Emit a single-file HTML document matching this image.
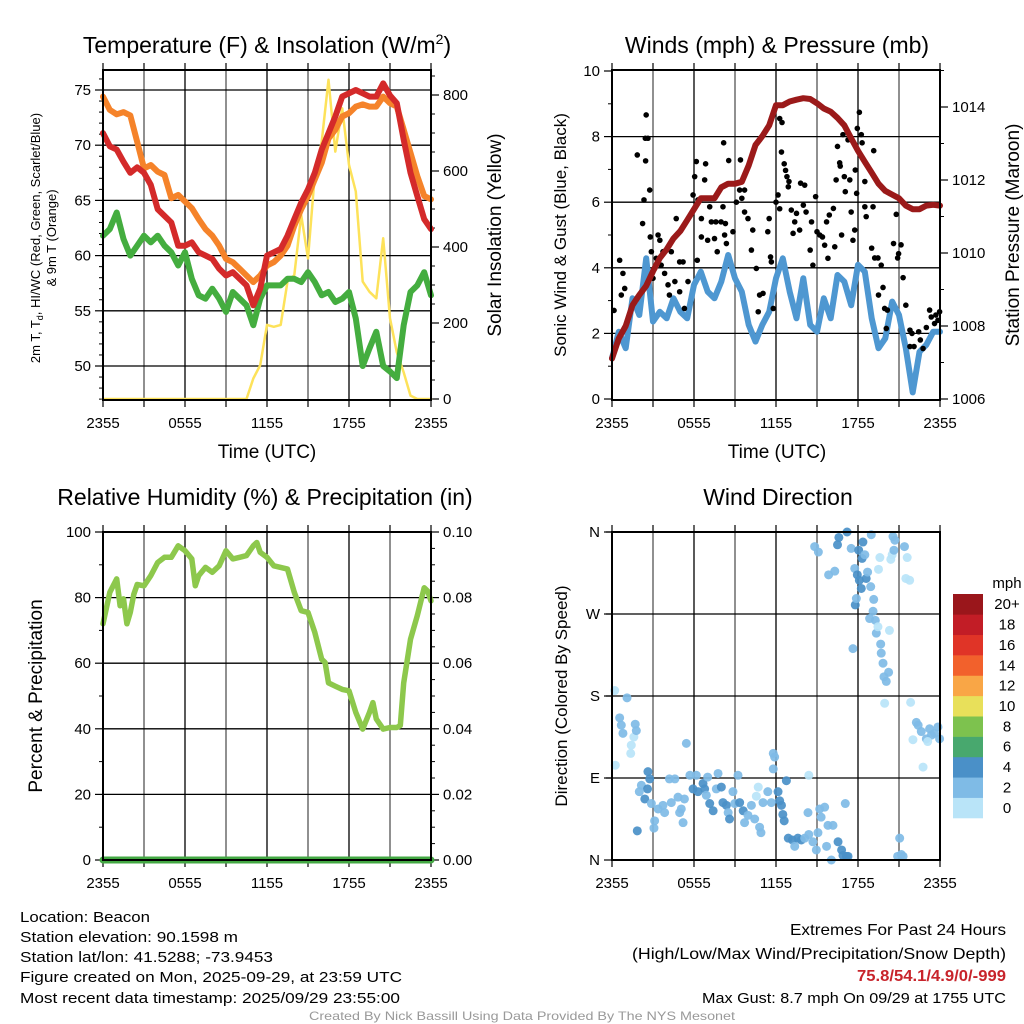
<!DOCTYPE html>
<html><head><meta charset="utf-8"><style>
html,body{margin:0;padding:0;background:#fff;}
svg{display:block;font-family:"Liberation Sans",sans-serif;}
</style></head><body>
<svg id="chart" width="1024" height="1024" viewBox="0 0 1024 1024" xmlns="http://www.w3.org/2000/svg">
<rect width="1024" height="1024" fill="#fff"/>
<g id="g1"></g>
<g id="g2"></g>
<g id="g3"></g>
<g id="g4"></g>
<g font-size="15" fill="#000">
<text x="20" y="922" textLength="130" lengthAdjust="spacingAndGlyphs">Location: Beacon</text>
<text x="20" y="942" textLength="218" lengthAdjust="spacingAndGlyphs">Station elevation: 90.1598 m</text>
<text x="20" y="962" textLength="253" lengthAdjust="spacingAndGlyphs">Station lat/lon: 41.5288; -73.9453</text>
<text x="20" y="982" textLength="382" lengthAdjust="spacingAndGlyphs">Figure created on Mon, 2025-09-29, at 23:59 UTC</text>
<text x="20" y="1003" textLength="380" lengthAdjust="spacingAndGlyphs">Most recent data timestamp: 2025/09/29 23:55:00</text>
</g>
<g text-anchor="end">
<text x="1006" y="935" font-size="16" textLength="216" lengthAdjust="spacingAndGlyphs">Extremes For Past 24 Hours</text>
<text x="1006" y="959" font-size="16" textLength="374" lengthAdjust="spacingAndGlyphs">(High/Low/Max Wind/Precipitation/Snow Depth)</text>
<text x="1006" y="981" font-size="16" font-weight="bold" fill="#c8242b" textLength="149" lengthAdjust="spacingAndGlyphs">75.8/54.1/4.9/0/-999</text>
<text x="1006" y="1003" font-size="15" textLength="304" lengthAdjust="spacingAndGlyphs">Max Gust: 8.7 mph On 09/29 at 1755 UTC</text>
</g>
<text x="522" y="1020" font-size="12" fill="#999" text-anchor="middle" textLength="426" lengthAdjust="spacingAndGlyphs">Created By Nick Bassill Using Data Provided By The NYS Mesonet</text>
</svg>
<script>
// ---- Data (t in hours after 2355 UTC) ----
var halfHours = [];
for (var i = 0; i <= 48; i++) halfHours.push(i / 2);
var xTickLabels = ["2355","0555","1155","1755","2355"];
var tempRed = [71.1,69.9,69.6,68.5,67.5,68,67.5,66.4,64.2,63.6,63,60.9,60.9,61.2,60.3,60,59.7,58.8,58.2,58.5,57.9,57.3,55.5,57,60,60.3,60.6,61.8,63.3,64.8,66,67.5,69.6,71.1,72.6,74.4,74.7,75,74.7,74.4,74.4,75.6,74.5,73.8,70.5,67.5,65.4,63.3,62.4];
var tempOrange = [74.4,73.2,72.8,73,72.7,70.3,67.9,68.2,67.6,67.3,65.2,65.5,64.9,64.3,63.3,62.4,61.8,60.9,59.7,59.4,58.8,58.2,57.6,58.2,59.1,59.4,60,60.9,62.7,64.2,65.4,66.9,68.4,70.6,71.4,72.6,72.9,73.5,73.7,73.5,73.5,74.4,73.8,73.5,71.4,69.3,67.2,65.4,65.1];
var tempGreen = [61.8,62.4,63.9,61.5,60,60.9,61.8,61.2,61.8,60.9,60.3,59.1,60.3,57.9,56.4,56.1,57,56.1,54.9,56.7,56.1,55.5,53.7,56.1,57.3,57.3,57.3,57.9,57.9,57.6,58.5,57.6,56.4,56.7,55.8,56.1,56.7,54.3,50,51.6,53.1,50,49.5,48.9,53.7,56.7,57.3,58.5,56.4];
var solar = [0,0,0,0,0,0,0,0,0,0,0,0,0,0,0,0,0,0,0,0,0,0,54,89,195,190,195,309,326,484,370,590,677,840,651,765,616,546,309,282,265,423,212,123,70,9,0,0,0];
var windSpeed = [1.24,2.05,1.55,3.07,2.56,4.29,2.36,2.66,2.46,3.07,2.66,2.46,3.48,3.88,3.27,3.07,3.58,4.39,3.68,3.27,2.26,1.75,2.26,2.66,3.68,4.29,3.27,2.46,3.68,2.26,2.05,3.07,2.46,3.78,3.58,2.86,4.09,3.88,2.46,1.55,1.85,2.97,2.56,1.55,0.2,1.44,1.65,2.05,2.05];
var pressure = [1007.11,1007.66,1008.0,1008.57,1008.85,1009.1,1009.5,1009.86,1010.1,1010.4,1010.6,1010.9,1011.2,1011.5,1011.5,1011.5,1011.8,1011.9,1011.9,1011.95,1012.4,1012.96,1013.2,1013.5,1014.05,1014.05,1014.15,1014.2,1014.24,1014.22,1014.1,1013.96,1013.87,1013.7,1013.5,1013.14,1012.8,1012.5,1012.2,1011.9,1011.7,1011.6,1011.5,1011.3,1011.2,1011.2,1011.3,1011.32,1011.3];
var gustTimes = [0.15,0.56,0.8,0.93,0.68,1.85,2.5,2.44,2.63,2.46,2.76,2.34,2.24,2.8,3.37,3.5,2.88,3.24,3.12,3.0,3.73,3.6,3.85,4.1,4.2,4.34,4.6,4.7,4.95,4.95,5.2,5.3,5.56,5.93,6.05,6.17,6.29,6.54,6.54,6.24,6.78,6.85,7.0,7.15,7.27,7.5,7.6,7.7,7.98,8.17,8.24,8.3,8.12,8.37,8.54,8.85,9.1,9.34,9.4,9.7,9.5,9.7,9.95,10.2,10.3,10.56,10.8,11.05,10.7,11.4,11.5,11.66,11.8,11.6,12.0,12.15,12.27,12.27,12.44,12.4,12.6,12.7,12.8,12.95,12.9,13.12,13.25,13.37,13.5,13.73,13.8,14.1,14.0,14.2,14.5,14.6,14.7,14.9,15.0,15.2,15.4,15.56,15.7,15.8,15.9,16.2,16.3,16.4,16.5,16.66,16.7,16.8,16.9,17.0,17.07,17.27,17.4,17.5,17.63,17.76,17.8,17.9,17.95,18.1,18.24,18.3,18.5,18.5,18.6,19.0,19.15,19.1,19.22,19.46,19.5,19.7,19.83,19.95,20.15,20.07,20.6,20.8,20.9,20.97,21.15,21.3,21.5,21.8,21.95,21.8,22.1,22.44,22.56,22.76,23.0,23.24,23.36,23.6,23.7,23.97,23.85];
var gustValues = [2.7,4.23,3.83,3.37,3.17,7.44,8.66,7.95,7.95,7.26,6.37,6.07,5.35,4.94,5.0,4.84,4.49,4.29,3.98,3.68,4.49,4.08,3.83,3.48,3.17,4.49,3.58,5.5,4.18,3.27,4.18,2.76,3.58,6.22,6.78,7.24,6.07,5.5,4.94,4.23,6.68,7.17,4.84,5.86,5.4,4.89,5.4,4.49,5.4,7.81,5.0,5.35,5.86,4.74,7.27,5.1,6.0,6.37,7.29,6.37,6.12,5.7,5.5,4.54,5.15,3.98,3.17,3.22,2.66,5.1,5.5,4.18,2.76,4.33,6.0,6.22,5.8,8.55,8.43,7.53,7.17,6.97,6.78,6.63,6.47,5.76,5.05,5.4,5.66,5.15,6.58,6.52,5.91,5.7,4.54,5.4,4.08,6.17,5.1,5.0,4.94,4.69,5.4,4.29,5.61,5.81,4.64,6.68,7.7,7.2,7.1,5.0,8.06,6.78,6.32,7.9,6.68,5.7,4.84,5.15,6.98,6.27,8.25,8.74,8.06,7.81,6.63,5.86,5.56,4.6,7.57,5.86,4.3,4.3,3.17,4.08,3.4,2.76,2.71,2.15,4.74,5.63,4.3,4.43,4.7,3.7,2.86,2.1,2.0,1.6,1.6,2.05,1.8,1.54,2.18,2.71,2.5,2.3,2.56,2.66,2.4];
var rhTimes = [0,0.5,1,1.25,1.5,1.75,2,2.25,2.5,3,3.5,4,4.5,5,5.5,6,6.5,6.75,7,7.5,8,8.5,9,9.5,10,10.5,11,11.25,11.5,12,12.5,13,13.5,14,14.5,15,15.5,16,16.25,16.5,17,17.5,18,18.5,19,19.5,19.75,20,20.5,21,21.5,21.75,22,22.5,23,23.5,23.75,24];
var rhValues = [72,81.6,85.7,77.5,79.6,72,75.5,81,84,83.6,86.7,90.7,92.3,92.3,95.8,94.3,91.8,83.6,86.7,89.2,87.7,89.7,94.3,91.8,92.3,92.8,95.8,96.8,93.8,92.3,89.7,89.2,88.7,81.6,76,75.5,69.4,61.2,60.2,54,53,52,51.6,45,39.9,45,48,43,39.9,40.4,40.4,41,54,67.3,74.5,83,82,79];
var precip = [0,0,0,0,0,0,0,0,0,0,0,0,0,0,0,0,0,0,0,0,0,0,0,0,0,0,0,0,0,0,0,0,0,0,0,0,0,0,0,0,0,0,0,0,0,0,0,0,0];
var dirTimes = [0.2,0.24,0.56,0.68,0.8,1.1,1.41,1.37,1.6,1.7,1.78,1.85,2.15,2.4,2.63,2.6,2.0,2.76,2.88,3.12,3.07,3.37,3.73,3.85,4.2,4.34,4.6,4.83,4.95,5.07,5.2,5.3,5.44,5.7,5.93,6.17,6.29,6.66,6.78,6.9,7.0,7.15,7.4,7.63,7.76,8.0,8.12,8.37,8.5,8.6,8.85,8.98,9.22,9.34,9.6,9.7,9.95,10.2,10.44,10.7,10.56,10.8,10.9,11.05,11.4,11.66,11.8,11.9,11.8,12.15,12.27,12.4,12.5,12.6,12.76,12.9,13.2,13.37,13.6,13.85,14.1,14.34,14.4,14.4,14.7,14.95,15.07,15.2,15.3,15.56,15.7,15.8,16.05,16.17,16.54,16.8,16.9,17.07,17.15,17.27,14.83,15.1,15.85,16.3,16.5,16.6,17.2,17.5,17.63,17.76,17.8,17.88,17.95,18.05,18.1,18.24,18.3,18.36,18.5,18.6,18.7,18.85,18.93,18.97,19.1,19.15,19.27,19.34,19.46,19.5,19.6,19.66,19.7,19.83,19.9,20.07,20.24,20.3,19.95,20.4,20.5,20.56,20.7,20.63,21.4,21.5,21.6,21.78,21.05,21.17,21.3,20.9,21.85,22.27,22.4,22.63,22.02,22.76,23.0,23.24,23.37,23.6,23.85,23.97,23.1];
var dirValues = [186,104,156,148,139,178,126,117,135,149,142,32,82,67,97,78,75,89,62,43,35,56,60,52,89,63,89,69,52,56,41,67,128,93,78,93,75,84,78,71,91,62,54,78,95,80,63,60,52,45,75,62,93,63,54,41,49,60,45,80,70,36,30,63,75,63,117,113,100,75,65,60,50,43,87,24,22,15,24,22,24,52,93,28,20,11,30,56,47,58,15,38,0,38,20,11,5,62,4,4,344,338,313,317,346,354,360,342,232,320,280,287,313,340,307,298,331,349,335,309,316,265,300,357,273,286,263,249,256,319,332,237,227,216,201,196,206,252,172,330,335,355,351,340,344,309,332,307,24,6,4,4,173,151,148,141,132,102,133,144,137,139,146,133,130];
var dirSpeeds = [1,1,2.8,2.8,2.8,2.8,1,1,1,2.8,2.8,4.5,2.8,4.5,4.5,4.5,2.8,4.5,2.8,2.8,2.8,2.8,2.8,2.8,2.8,2.8,2.8,2.8,2.8,2.8,2.8,2.8,2.8,2.8,4.5,2.8,4.5,4.5,4.5,2.8,2.8,4.5,4.5,2.8,2.8,4.5,4.5,4.5,2.8,4.5,2.8,2.8,2.8,4.5,4.5,2.8,2.8,2.8,2.8,1,1,2.8,2.8,2.8,2.8,2.8,2.8,2.8,2.8,4.5,4.5,4.5,4.5,4.5,4.5,4.5,4.5,2.8,4.5,4.5,2.8,2.8,1,2.8,2.8,2.8,2.8,2.8,2.8,2.8,2.8,2.8,2.8,2.8,4.5,4.5,4.5,2.8,4.5,4.5,2.8,2.8,2.8,2.8,4.5,4.5,4.5,2.8,2.8,2.8,4.5,2.8,4.5,4.5,4.5,4.5,4.5,4.5,2.8,4.5,2.8,2.8,2.8,2.8,2.8,2.8,2.8,2.8,1,1,1,2.8,2.8,2.8,2.8,2.8,2.8,1,1,1,1,2.8,2.8,2.8,2.8,1,1,1,2.8,2.8,2.8,2.8,1,2.8,2.8,2.8,1,1,2.8,2.8,2.8,2.8,2.8,2.8,1];
var cbLabels = ["0","2","4","6","8","10","12","14","16","18","20+"];
var cbColors = ["#b9e4f8","#7fbbe6","#4a90c8","#48a86e","#7dc24e","#e8e05a","#f9a646","#f2612c","#e03427","#c21d26","#9a161b"];

var NS = "http://www.w3.org/2000/svg";
function mk(parent, tag, attrs) {
  var e = document.createElementNS(NS, tag);
  for (var k in attrs) e.setAttribute(k, attrs[k]);
  parent.appendChild(e);
  return e;
}
function txt(parent, x, y, s, size, anchor, rot) {
  var t = mk(parent, "text", {x: x, y: y, "font-size": size, "text-anchor": anchor || "middle"});
  if (rot) t.setAttribute("transform", "rotate(" + rot + " " + x + " " + y + ")");
  t.textContent = s;
  return t;
}
function lin(d0, d1, r0, r1) { return function (v) { return r0 + (v - d0) * (r1 - r0) / (d1 - d0); }; }

function frame(g, L, R, T, B) {
  var xs = lin(0, 24, L, R);
  for (var h = 3; h < 24; h += 3) {
    var gl = mk(g, "line", {x1: xs(h), x2: xs(h), y1: T, y2: B, stroke: (h % 6 === 0 ? "#000" : "#555"), "stroke-width": 1.3});
    
    
  }
  for (var h2 = 0; h2 <= 24; h2 += 3) {
    mk(g, "line", {x1: xs(h2), x2: xs(h2), y1: B, y2: B + 7, stroke: "#000", "stroke-width": 1.2});
    mk(g, "line", {x1: xs(h2), x2: xs(h2), y1: T, y2: T - 7, stroke: "#000", "stroke-width": 1.2});
  }
  for (var j = 0; j < xTickLabels.length; j++) {
    var tl = txt(g, xs(j * 6), B + 28, xTickLabels[j], 15);
    
    
  }
  return xs;
}
function hgrid(g, L, R, y, color) {
  var l = mk(g, "line", {x1: L, x2: R, y1: y, y2: y, stroke: color || "#000", "stroke-width": 1.3});
  
  
}
function border(g, L, R, T, B) {
  var r = mk(g, "rect", {x: L, y: T, width: R - L, height: B - T, fill: "none", stroke: "#000", "stroke-width": 2});
  
  
}
function line(g, xsArr, ysArr, xs, ys, color, w, name) {
  var d = "";
  for (var i = 0; i < xsArr.length; i++) d += (i ? "L" : "M") + xs(xsArr[i]).toFixed(1) + "," + ys(ysArr[i]).toFixed(1);
  var p = mk(g, "path", {d: d, fill: "none", stroke: color, "stroke-width": w, "stroke-linejoin": "round", "stroke-linecap": "round"});
  
  
  return p;
}
function leftTicks(g, L, ys, vals, labels, minor) {
  for (var i = 0; i < vals.length; i++) {
    mk(g, "line", {x1: L - 8, x2: L, y1: ys(vals[i]), y2: ys(vals[i]), stroke: "#000", "stroke-width": 1.2});
    var t = txt(g, L - 12, ys(vals[i]) + 5, labels[i], 15, "end");
    
    
  }
  (minor || []).forEach(function (v) { mk(g, "line", {x1: L - 4, x2: L, y1: ys(v), y2: ys(v), stroke: "#000", "stroke-width": 1}); });
}
function rightTicks(g, R, ys, vals, labels, minor) {
  for (var i = 0; i < vals.length; i++) {
    mk(g, "line", {x1: R, x2: R + 8, y1: ys(vals[i]), y2: ys(vals[i]), stroke: "#000", "stroke-width": 1.2});
    var t = txt(g, R + 12, ys(vals[i]) + 5, labels[i], 15, "start");
    
    
  }
  (minor || []).forEach(function (v) { mk(g, "line", {x1: R, x2: R + 4, y1: ys(v), y2: ys(v), stroke: "#000", "stroke-width": 1}); });
}

// ---- Panel 1 ----
(function () {
  var g = document.getElementById("g1");
  var L = 103, R = 431, T = 70, B = 400;
  var xs = frame(g, L, R, T, B);
  var ys = lin(50, 75, 366, 90);
  var ys2 = lin(0, 800, 399, 95);
  [50, 55, 60, 65, 70, 75].forEach(function (v) { hgrid(g, L, R, ys(v)); });
  var minor = []; for (var v = 47; v <= 76; v++) if (v % 5) minor.push(v);
  leftTicks(g, L, ys, [50, 55, 60, 65, 70, 75], ["50", "55", "60", "65", "70", "75"], minor);
  var m2 = []; for (var w = 50; w <= 850; w += 50) if (w % 200) m2.push(w);
  rightTicks(g, R, ys2, [0, 200, 400, 600, 800], ["0", "200", "400", "600", "800"], m2);
  line(g, halfHours, solar, xs, ys2, "#fde25a", 2.5, "solar-insolation-line");
  line(g, halfHours, tempGreen, xs, ys, "#44ad3f", 6, "dewpoint-line");
  line(g, halfHours, tempOrange, xs, ys, "#f5832a", 6, "nine-meter-temp-line");
  line(g, halfHours, tempRed, xs, ys, "#d42a2a", 6, "heat-index-line");
  border(g, L, R, T, B);
  var t = txt(g, 267, 53, "", 23); t.innerHTML = 'Temperature (F) &amp; Insolation (W/m<tspan dy="-9" font-size="14">2</tspan><tspan dy="9">)</tspan>';
  
  
  var a = txt(g, 40, 238, "", 13, "middle", -90); a.innerHTML = '2m T, T<tspan dy="3" font-size="9">d</tspan><tspan dy="-3">, HI/WC (Red, Green, Scarlet/Blue)</tspan>';
  
  
  var a2 = txt(g, 56, 238, "& 9m T (Orange)", 13, "middle", -90);
  
  
  var r = txt(g, 501, 235, "Solar Insolation (Yellow)", 19, "middle", -90);
  
  
  var x = txt(g, 267, 458, "Time (UTC)", 19);
  
  
})();

// ---- Panel 2 ----
(function () {
  var g = document.getElementById("g2");
  var L = 612, R = 940, T = 70, B = 400;
  var xs = frame(g, L, R, T, B);
  var ys = lin(0, 10, 399, 71);
  var ys2 = lin(1006, 1014, 399, 107);
  [2, 4, 6, 8].forEach(function (v) { hgrid(g, L, R, ys(v)); });
  leftTicks(g, L, ys, [0, 2, 4, 6, 8, 10], ["0", "2", "4", "6", "8", "10"], [1, 3, 5, 7, 9]);
  rightTicks(g, R, ys2, [1006, 1008, 1010, 1012, 1014], ["1006", "1008", "1010", "1012", "1014"], [1007, 1009, 1011, 1013, 1015]);
  line(g, halfHours, windSpeed, xs, ys, "#4e97d1", 6, "sonic-wind-line");
  for (var i = 0; i < gustTimes.length; i++) {
    var c = mk(g, "circle", {cx: xs(gustTimes[i]), cy: ys(gustValues[i]), r: 2.8, fill: "#000"});
    
    
  }
  line(g, halfHours, pressure, xs, ys2, "#9b1a1a", 6, "pressure-line");
  border(g, L, R, T, B);
  var t = txt(g, 777, 53, "Winds (mph) & Pressure (mb)", 23);
  
  
  var a = txt(g, 566, 235, "Sonic Wind & Gust (Blue, Black)", 17, "middle", -90);
  
  
  var r = txt(g, 1019, 235, "Station Pressure (Maroon)", 19, "middle", -90);
  
  
  var x = txt(g, 777, 458, "Time (UTC)", 19);
  
  
})();

// ---- Panel 3 ----
(function () {
  var g = document.getElementById("g3");
  var L = 103, R = 431, T = 532, B = 860;
  var xs = frame(g, L, R, T, B);
  var ys = lin(0, 100, 860, 532);
  var ys2 = lin(0, 0.1, 860, 532);
  [20, 40, 60, 80].forEach(function (v) { hgrid(g, L, R, ys(v)); });
  leftTicks(g, L, ys, [0, 20, 40, 60, 80, 100], ["0", "20", "40", "60", "80", "100"], [10, 30, 50, 70, 90]);
  var m = []; for (var k = 1; k < 20; k++) if (k % 4) m.push(k * 0.005);
  rightTicks(g, R, ys2, [0, 0.02, 0.04, 0.06, 0.08, 0.1], ["0.00", "0.02", "0.04", "0.06", "0.08", "0.10"], m);
  line(g, rhTimes, rhValues, xs, ys, "#8dc84c", 5.5, "relative-humidity-line");
  line(g, halfHours, precip, xs, ys2, "#43a843", 7, "precipitation-line");
  border(g, L, R, T, B);
  var t = txt(g, 265, 505, "Relative Humidity (%) & Precipitation (in)", 23);
  
  
  var a = txt(g, 42, 696, "Percent & Precipitation", 19, "middle", -90);
  
  
})();

// ---- Panel 4 ----
(function () {
  var g = document.getElementById("g4");
  var L = 612, R = 940, T = 532, B = 860;
  var xs = frame(g, L, R, T, B);
  var ys = lin(0, 360, 860, 532);
  [90, 180, 270, 360].forEach(function (v) { hgrid(g, L - 6, R, ys(v)); });
  leftTicks(g, L, ys, [0, 90, 180, 270, 360], ["N", "E", "S", "W", "N"], []);
  for (var i = 0; i < dirTimes.length; i++) {
    var bin = Math.min(10, Math.floor(dirSpeeds[i] / 2));
    var c = mk(g, "circle", {cx: xs(dirTimes[i]), cy: ys(dirValues[i]), r: 4.5, fill: cbColors[bin], opacity: 0.92});
    
    
  }
  border(g, L, R, T, B);
  var t = txt(g, 778, 505, "Wind Direction", 23);
  
  
  var a = txt(g, 567, 696, "Direction (Colored By Speed)", 17, "middle", -90);
  
  
  var cb = mk(g, "g", {});
  
  
  var h = 224 / 11, top = 594;
  for (var k = 0; k < cbColors.length; k++) {
    var y = top + (10 - k) * h;
    var r = mk(cb, "rect", {x: 953, y: y, width: 30, height: h + 0.3, fill: cbColors[k]});
    
    
    var l = txt(cb, 1007, y + h / 2 + 5, cbLabels[k], 15);
    
    
  }
  var u = txt(cb, 1007, 588, "mph", 15);
  
  
})();
</script>
</body></html>
